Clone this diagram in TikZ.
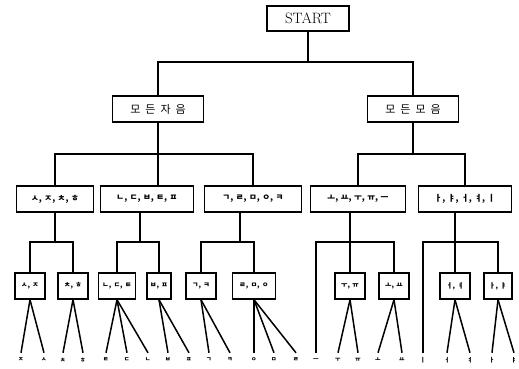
\documentclass[tikz,border=0pt]{standalone}
\usepackage{fontspec}
\newfontfamily\kor{Noto Sans CJK KR}
\newcommand{\jgap}{\hspace{5pt}}
\newcommand{\jc}{,\hspace{2.5pt}}
\tikzset{
  box/.style={draw, line width=1.5pt, inner sep=2pt, minimum height=26pt},
  top/.style={box, font={\fontsize{15}{17}\selectfont}, minimum width=82pt, minimum height=25pt},
  half/.style={box, font={\kor\fontsize{11}{13}\selectfont}, minimum width=91pt},
  grp/.style={box, font={\kor\bfseries\fontsize{8.5}{9}\selectfont}, minimum width=93pt},
  sub/.style={box, font={\kor\bfseries\fontsize{7}{8}\selectfont}, inner xsep=6pt},
  leaf/.style={font={\kor\bfseries\fontsize{6}{7}\selectfont}, inner sep=0pt, minimum height=14pt},
  wire/.style={line width=1.5pt},
}
\begin{document}
\begin{tikzpicture}[x=1pt,y=-1pt]
        \useasboundingbox[fill=white] (0,0) rectangle (519,369);
        %root and the two halves
        \node[top] (start) at (308,18.5) {START};
        \node[half] (cons) at (158,109) {모\jgap 든\jgap 자\jgap 음};
        \node[half] (vow) at (413,109) {모\jgap 든\jgap 모\jgap 음};
        \coordinate (b0) at (308,62);
        \draw[wire] (start) -- (b0);
        \draw[wire] (cons.north) |- (b0) -| (vow.north);
    
        %consonant and vowel groups
        \node[grp, minimum width=77pt] (c1) at (55,199) {ㅅ\jc ㅈ\jc ㅊ\jc ㅎ};
        \node[grp] (c2) at (147,199) {ㄴ\jc ㄷ\jc ㅂ\jc ㅌ\jc ㅍ};
        \node[grp, minimum width=97pt] (c3) at (253,199) {ㄱ\jc ㄹ\jc ㅁ\jc ㅇ\jc ㅋ};
        \node[grp, minimum width=95pt] (v1) at (358,199) {ㅗ\jc ㅛ\jc ㅜ\jc ㅠ\jc ㅡ};
        \node[grp] (v2) at (465,199) {ㅏ\jc ㅑ\jc ㅓ\jc ㅕ\jc ㅣ};
        \coordinate (b1) at (158,154);
        \coordinate (b2) at (413,154);
        \draw[wire] (cons.south) -- (cons.south |- c2.north);
        \draw[wire] (c1.north) |- (b1) -| (c3.north);
        \draw[wire] (vow) -- (b2);
        \draw[wire] (v1.north) |- (b2) -| (v2.north);
    
        %small groups
        \node[sub] (s1) at (30,286) {ㅅ\jc ㅈ};
        \node[sub] (s2) at (73,286) {ㅊ\jc ㅎ};
        \node[sub, inner xsep=4pt] (s3) at (117,286) {ㄴ\jc ㄷ\jc ㅌ};
        \node[sub, inner xsep=3pt] (s4) at (159,286) {ㅂ\jc ㅍ};
        \node[sub] (s5) at (201,286) {ㄱ\jc ㅋ};
        \node[sub, inner xsep=7pt] (s6) at (254,286) {ㄹ\jc ㅁ\jc ㅇ};
        \node[sub] (s7) at (350,286) {ㅜ\jc ㅠ};
        \node[sub] (s8) at (394,286) {ㅗ\jc ㅛ};
        \node[sub] (s9) at (455,286) {ㅓ\jc ㅕ};
        \node[sub, inner xsep=5pt] (s10) at (498,286) {ㅏ\jc ㅑ};
        \coordinate (d1) at (55,242);
        \coordinate (d2) at (140,242);
        \coordinate (d3) at (240,242);
        \coordinate (d4) at (350,242);
        \coordinate (d5) at (455,242);
        \draw[wire] (c1) -- (d1);
        \draw[wire] (s1.north) |- (d1) -| (s2.north);
        \draw[wire] (c2.south -| d2) -- (d2);
        \draw[wire] (s3.north) |- (d2) -| (s4.north);
        \draw[wire] (c3.south -| d3) -- (d3);
        \draw[wire] (s5.north) |- (d3) -| (s6.north);
    
        %single letters
        \node[leaf] (l1) at (21,360) {ㅈ};
        \node[leaf] (l2) at (44,360) {ㅅ};
        \node[leaf] (l3) at (63,360) {ㅊ};
        \node[leaf] (l4) at (83,360) {ㅎ};
        \node[leaf] (l5) at (106,360) {ㅌ};
        \node[leaf] (l6) at (127,360) {ㄷ};
        \node[leaf] (l7) at (148,360) {ㄴ};
        \node[leaf] (l8) at (168,360) {ㅂ};
        \node[leaf] (l9) at (189,360) {ㅍ};
        \node[leaf] (l10) at (209,360) {ㄱ};
        \node[leaf] (l11) at (230,360) {ㅋ};
        \node[leaf] (l12) at (254,360) {ㅇ};
        \node[leaf] (l13) at (274,360) {ㅁ};
        \node[leaf] (l14) at (296,360) {ㄹ};
        \node[leaf] (l15) at (316,360) {ㅡ};
        \node[leaf] (l16) at (338,360) {ㅜ};
        \node[leaf] (l17) at (358,360) {ㅠ};
        \node[leaf] (l18) at (378,360) {ㅗ};
        \node[leaf] (l19) at (402,360) {ㅛ};
        \node[leaf] (l20) at (423,360) {ㅣ};
        \node[leaf] (l21) at (447,360) {ㅓ};
        \node[leaf] (l22) at (470,360) {ㅕ};
        \node[leaf] (l23) at (492,360) {ㅏ};
        \node[leaf] (l24) at (514,360) {ㅑ};
        \draw[wire] (v1.south -| d4) -- (d4) -- (s7.north);
        \draw[wire] (l15.north) |- (d4) -| (s8.north);
        \draw[wire] (v2.south -| d5) -- (d5) -- (s9.north);
        \draw[wire] (l20.north) |- (d5) -| (s10.north);
        \foreach \s/\l in {s1/l1, s1/l2, s2/l3, s2/l4, s3/l5, s3/l6, s3/l7, s4/l8, s4/l9,
            s5/l10, s5/l11, s6/l12, s6/l13, s6/l14, s7/l16, s7/l17, s8/l18, s8/l19,
            s9/l21, s9/l22, s10/l23, s10/l24}
          \draw[wire] (\s.south) -- (\l.north);
\end{tikzpicture}
\end{document}
